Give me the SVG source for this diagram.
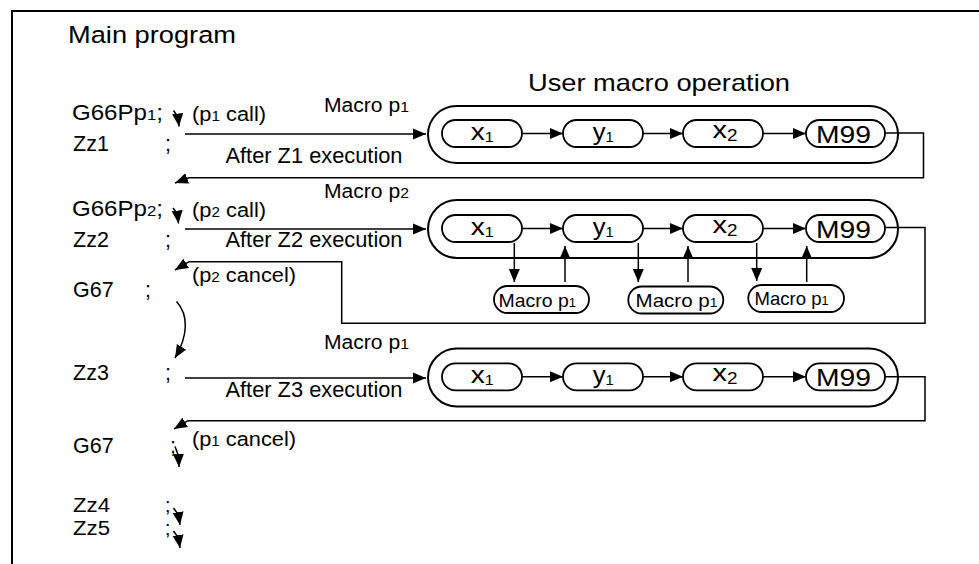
<svg xmlns="http://www.w3.org/2000/svg" width="979" height="564" viewBox="0 0 979 564">
<style>
.ln{fill:none;stroke:#000;stroke-width:1.5}
.fr{fill:none;stroke:#000;stroke-width:2}
.cap{fill:none;stroke:#000;stroke-width:2}
.box{fill:#fff;stroke:#000;stroke-width:1.8}
.t{font-family:"Liberation Sans",Arial,sans-serif;fill:#000}
.big{font-size:24.5px}
.m{font-size:21.5px}
.m2{font-size:19.5px}
.s{font-size:20px}
.sm{font-size:18.5px}
</style>
<defs>
<marker id="ah" markerUnits="userSpaceOnUse" markerWidth="14" markerHeight="12" refX="13" refY="6" orient="auto"><path d="M0,0.5 L13,6 L0,11.5 z" fill="#000"/></marker>
</defs>
<rect width="979" height="564" fill="#fff"/>
<path class="fr" d="M979,11 H12 V564"/>

<g id="titles">
<text class="t big" x="68" y="42.5" textLength="168" lengthAdjust="spacingAndGlyphs">Main program</text>
<text class="t" style="font-size:24px" x="528" y="90.5" textLength="262" lengthAdjust="spacingAndGlyphs">User macro operation</text>
</g>

<g id="main-program">
<text class="t m" x="72" y="120" textLength="91" lengthAdjust="spacingAndGlyphs">G66Pp<tspan style="font-size:15px">1</tspan>;</text>
<text class="t m" x="73" y="151">Zz1</text><text class="t m" x="165" y="151">;</text>
<text class="t m" x="72" y="216" textLength="91" lengthAdjust="spacingAndGlyphs">G66Pp<tspan style="font-size:15px">2</tspan>;</text>
<text class="t m" x="73" y="246.7">Zz2</text><text class="t m" x="165" y="246.7">;</text>
<text class="t m" x="73" y="297">G67</text><text class="t m" x="145" y="297">;</text>
<text class="t m" x="73" y="380">Zz3</text><text class="t m" x="165" y="380">;</text>
<text class="t m" x="73" y="453">G67</text><text class="t m" x="170" y="453">;</text>
<text class="t m2" x="73" y="511.5" textLength="37" lengthAdjust="spacingAndGlyphs">Zz4</text><text class="t m2" x="165" y="511.5">;</text>
<text class="t m2" x="73" y="534.5" textLength="37" lengthAdjust="spacingAndGlyphs">Zz5</text><text class="t m2" x="165" y="534.5">;</text>
</g>

<g id="labels">
<text class="t s" x="192" y="121" textLength="74" lengthAdjust="spacingAndGlyphs">(p<tspan style="font-size:14px">1</tspan> call)</text>
<text class="t s" x="192" y="217" textLength="74" lengthAdjust="spacingAndGlyphs">(p<tspan style="font-size:14px">2</tspan> call)</text>
<text class="t s" x="192" y="282" textLength="104" lengthAdjust="spacingAndGlyphs">(p<tspan style="font-size:14px">2</tspan> cancel)</text>
<text class="t s" x="192" y="446" textLength="104" lengthAdjust="spacingAndGlyphs">(p<tspan style="font-size:14px">1</tspan> cancel)</text>
<text class="t s" x="324" y="111.7" textLength="85" lengthAdjust="spacingAndGlyphs">Macro p<tspan style="font-size:15px">1</tspan></text>
<text class="t s" x="324" y="198.3" textLength="85" lengthAdjust="spacingAndGlyphs">Macro p<tspan style="font-size:15px">2</tspan></text>
<text class="t s" x="324" y="349.3" textLength="85" lengthAdjust="spacingAndGlyphs">Macro p<tspan style="font-size:15px">1</tspan></text>
<text class="t m" x="225.5" y="162.7" textLength="177" lengthAdjust="spacingAndGlyphs">After Z1 execution</text>
<text class="t m" x="225.5" y="246.5" textLength="177" lengthAdjust="spacingAndGlyphs">After Z2 execution</text>
<text class="t m" x="225.5" y="396.7" textLength="177" lengthAdjust="spacingAndGlyphs">After Z3 execution</text>
</g>

<g id="connectors">
<path class="ln" d="M173.5,110.5 L178,117 L179,126.5" marker-end="url(#ah)"/>
<path class="ln" d="M173,208 L177.5,214 L178.5,223.5" marker-end="url(#ah)"/>
<path class="ln" d="M176.5,301.5 C189,315 188,336 175,358" marker-end="url(#ah)"/>
<path class="ln" d="M175,446.5 L178.5,456 L179,467" marker-end="url(#ah)"/>
<path class="ln" d="M173.5,508 L178.5,515 L180,525" marker-end="url(#ah)"/>
<path class="ln" d="M173.5,531 L178.5,538 L180,548" marker-end="url(#ah)"/>
<path class="ln" d="M185,134 H426" marker-end="url(#ah)"/>
<path class="ln" d="M185,229 H426" marker-end="url(#ah)"/>
<path class="ln" d="M185,378 H426" marker-end="url(#ah)"/>
<path class="ln" d="M885,133 H923.5 V177.7 H189 L175,183" marker-end="url(#ah)"/>
<path class="ln" d="M885,227.5 H925 V323.3 H341.7 V261.7 H189 L175,270" marker-end="url(#ah)"/>
<path class="ln" d="M885,376.7 H925 V420.7 H188 L174,429" marker-end="url(#ah)"/>
<path class="ln" d="M522,133.5 H563" marker-end="url(#ah)"/>
<path class="ln" d="M643,133.5 H683" marker-end="url(#ah)"/>
<path class="ln" d="M763,133.5 H806" marker-end="url(#ah)"/>
<path class="ln" d="M522,228.5 H563" marker-end="url(#ah)"/>
<path class="ln" d="M643,228.5 H683" marker-end="url(#ah)"/>
<path class="ln" d="M763,228.5 H806" marker-end="url(#ah)"/>
<path class="ln" d="M522,376.7 H563" marker-end="url(#ah)"/>
<path class="ln" d="M643,376.7 H683" marker-end="url(#ah)"/>
<path class="ln" d="M763,376.7 H806" marker-end="url(#ah)"/>
<path class="ln" d="M514.3,243 V282" marker-end="url(#ah)"/>
<path class="ln" d="M565,282 V246" marker-end="url(#ah)"/>
<path class="ln" d="M638.3,243 V282" marker-end="url(#ah)"/>
<path class="ln" d="M688,282 V246" marker-end="url(#ah)"/>
<path class="ln" d="M756.7,243 V281" marker-end="url(#ah)"/>
<path class="ln" d="M806.7,282 V246" marker-end="url(#ah)"/>
</g>

<g id="macro-p1-row1">
<rect class="cap" x="428" y="106" width="470" height="57" rx="28.5"/>
<g id="r1-x1"><rect class="box" x="442" y="120" width="80" height="27" rx="13.5"/><text class="t big" x="482.3" y="139.5" text-anchor="middle" textLength="23" lengthAdjust="spacingAndGlyphs">x<tspan dy="2.2" style="font-size:14px">1</tspan></text></g>
<g id="r1-y1"><rect class="box" x="563" y="120" width="80" height="27" rx="13.5"/><text class="t big" x="603.3" y="139.5" text-anchor="middle" textLength="21" lengthAdjust="spacingAndGlyphs">y<tspan dy="2.2" style="font-size:14px">1</tspan></text></g>
<g id="r1-x2"><rect class="box" x="683" y="120" width="80" height="27" rx="13.5"/><text class="t big" x="725" y="137.5" text-anchor="middle" textLength="25" lengthAdjust="spacingAndGlyphs">x<tspan dy="3.2" style="font-size:16px">2</tspan></text></g>
<g id="r1-m99"><rect class="box" x="806" y="120" width="79" height="27" rx="13.5"/><text class="t big" x="843.5" y="142.5" text-anchor="middle" textLength="55" lengthAdjust="spacingAndGlyphs">M99</text></g>
</g>

<g id="macro-p2-row2">
<rect class="cap" x="428" y="200" width="470" height="58" rx="29"/>
<g id="r2-x1"><rect class="box" x="442" y="215" width="80" height="27" rx="13.5"/><text class="t big" x="482.3" y="234.5" text-anchor="middle" textLength="23" lengthAdjust="spacingAndGlyphs">x<tspan dy="2.2" style="font-size:14px">1</tspan></text></g>
<g id="r2-y1"><rect class="box" x="563" y="215" width="80" height="27" rx="13.5"/><text class="t big" x="603.3" y="234.5" text-anchor="middle" textLength="21" lengthAdjust="spacingAndGlyphs">y<tspan dy="2.2" style="font-size:14px">1</tspan></text></g>
<g id="r2-x2"><rect class="box" x="683" y="215" width="80" height="27" rx="13.5"/><text class="t big" x="725" y="232.5" text-anchor="middle" textLength="25" lengthAdjust="spacingAndGlyphs">x<tspan dy="3.2" style="font-size:16px">2</tspan></text></g>
<g id="r2-m99"><rect class="box" x="806" y="215" width="79" height="27" rx="13.5"/><text class="t big" x="843.5" y="237.5" text-anchor="middle" textLength="55" lengthAdjust="spacingAndGlyphs">M99</text></g>
<g id="r2-call1"><rect class="box" x="494" y="286" width="95" height="27" rx="13.5"/><text class="t sm" x="498.5" y="306.5" textLength="77.5" lengthAdjust="spacingAndGlyphs">Macro p<tspan style="font-size:12.5px">1</tspan></text></g>
<g id="r2-call2"><rect class="box" x="628.3" y="286.5" width="95" height="27" rx="13.5"/><text class="t sm" x="635.5" y="306.5" textLength="82" lengthAdjust="spacingAndGlyphs">Macro p<tspan style="font-size:12.5px">1</tspan></text></g>
<g id="r2-call3"><rect class="box" x="748.3" y="285" width="95.7" height="27" rx="13.5"/><text class="t sm" x="754.5" y="305" textLength="74" lengthAdjust="spacingAndGlyphs">Macro p<tspan style="font-size:12.5px">1</tspan></text></g>
</g>

<g id="macro-p1-row3">
<rect class="cap" x="428" y="348.5" width="470" height="58" rx="29"/>
<g id="r3-x1"><rect class="box" x="442" y="363.3" width="80" height="27" rx="13.5"/><text class="t big" x="482.3" y="382.7" text-anchor="middle" textLength="23" lengthAdjust="spacingAndGlyphs">x<tspan dy="2.2" style="font-size:14px">1</tspan></text></g>
<g id="r3-y1"><rect class="box" x="563" y="363.3" width="80" height="27" rx="13.5"/><text class="t big" x="603.3" y="382.7" text-anchor="middle" textLength="21" lengthAdjust="spacingAndGlyphs">y<tspan dy="2.2" style="font-size:14px">1</tspan></text></g>
<g id="r3-x2"><rect class="box" x="683" y="363.3" width="80" height="27" rx="13.5"/><text class="t big" x="725" y="380.7" text-anchor="middle" textLength="25" lengthAdjust="spacingAndGlyphs">x<tspan dy="3.2" style="font-size:16px">2</tspan></text></g>
<g id="r3-m99"><rect class="box" x="806" y="363.3" width="79" height="27" rx="13.5"/><text class="t big" x="843.5" y="385.7" text-anchor="middle" textLength="55" lengthAdjust="spacingAndGlyphs">M99</text></g>
</g>
</svg>
